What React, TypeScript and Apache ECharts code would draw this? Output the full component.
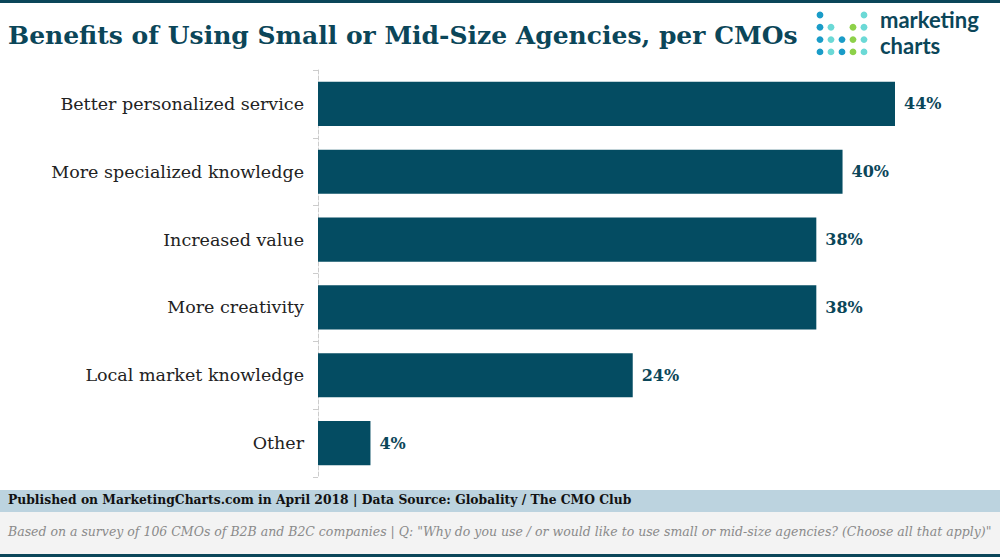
import React, { useEffect, useRef } from "react";
import * as echarts from "echarts";

const categories = [
  "Better personalized service",
  "More specialized knowledge",
  "Increased value",
  "More creativity",
  "Local market knowledge",
  "Other",
];
const values = [44, 40, 38, 38, 24, 4];

const titleText = "Benefits of Using Small or Mid-Size Agencies, per CMOs";
const logoText = "marketing\ncharts";
const sourceText =
  "Published on MarketingCharts.com in April 2018 | Data Source: Globality / The CMO Club";
const noteText =
  'Based on a survey of 106 CMOs of B2B and B2C companies | Q: "Why do you use / or would like to use small or mid-size agencies? (Choose all that apply)"';

const DARK = "#0b4659";
const BAR = "#044c62";
const SERIF = "'DejaVu Serif', 'Liberation Serif', serif";

// logo dots: [col, row, color]
const BLUE = "#1a9cc8";
const CYAN = "#6bd9d6";
const GREEN = "#8dd149";
const logoDots: [number, number, string][] = [
  [0, 0, BLUE], [4, 0, CYAN],
  [0, 1, BLUE], [1, 1, CYAN], [3, 1, GREEN], [4, 1, CYAN],
  [0, 2, BLUE], [1, 2, CYAN], [2, 2, BLUE], [3, 2, GREEN], [4, 2, CYAN],
  [0, 3, BLUE], [1, 3, CYAN], [2, 3, BLUE], [3, 3, GREEN], [4, 3, CYAN],
];

export default function App() {
  const ref = useRef<HTMLDivElement>(null);
  useEffect(() => {
    if (!ref.current) return;
    const chart = echarts.init(ref.current, undefined, { renderer: "svg" });
    const graphics: any[] = [
      { type: "rect", left: 0, top: 0, shape: { width: 1000, height: 3 }, style: { fill: DARK } },
      {
        type: "text",
        left: 8,
        top: 23,
        style: { text: titleText, fill: DARK, font: `bold 25px ${SERIF}` },
      },
      ...logoDots.map(([c, r, col]) => ({
        type: "circle",
        shape: { cx: 820 + c * 11, cy: 15 + r * 12.3, r: 3.4 },
        style: { fill: col },
      })),
      {
        type: "text",
        x: 880,
        y: 6,
        style: {
          text: logoText,
          fill: DARK,
          fontFamily: "Lato, sans-serif",
          fontWeight: "bold",
          fontSize: 22,
          lineHeight: 26.5,
        },
      },
      { type: "rect", left: 0, top: 490, shape: { width: 1000, height: 22 }, style: { fill: "#bcd3df" } },
      { type: "rect", left: 0, top: 512, shape: { width: 1000, height: 43 }, style: { fill: "#f3f3f3" } },
      { type: "rect", left: 0, top: 554, shape: { width: 1000, height: 3 }, style: { fill: DARK } },
      {
        type: "text",
        x: 8,
        y: 493,
        scaleX: 0.95,
        style: { text: sourceText, fill: "#111", font: `bold 13px ${SERIF}` },
      },
      {
        type: "text",
        left: 8,
        top: 525,
        style: { text: noteText, fill: "#8a8a8a", font: `italic 12.5px ${SERIF}` },
      },
    ];
    chart.setOption({
      animation: false,
      grid: { left: 318, right: 105, top: 70, bottom: 80, containLabel: false },
      xAxis: {
        type: "value",
        min: 0,
        max: 44,
        show: false,
      },
      yAxis: {
        type: "category",
        data: categories,
        inverse: true,
        axisLine: { show: true, lineStyle: { color: "#cccccc", type: "dashed", width: 1 } },
        axisTick: { show: true, length: 5, lineStyle: { color: "#cccccc" } },
        axisLabel: { color: "#222", fontFamily: SERIF, fontSize: 17.5, margin: 14 },
      },
      series: [
        {
          type: "bar",
          data: values,
          barCategoryGap: "35%",
          itemStyle: { color: BAR },
          label: {
            show: true,
            position: "right",
            distance: 9,
            formatter: "{c}%",
            color: DARK,
            fontFamily: SERIF,
            fontWeight: "bold",
            fontSize: 16,
          },
        },
      ],
      graphic: graphics,
    });
    return () => chart.dispose();
  }, []);
  return <div ref={ref} style={{ width: 1000, height: 557, position: "absolute", left: 0, top: 0 }} />;
}
